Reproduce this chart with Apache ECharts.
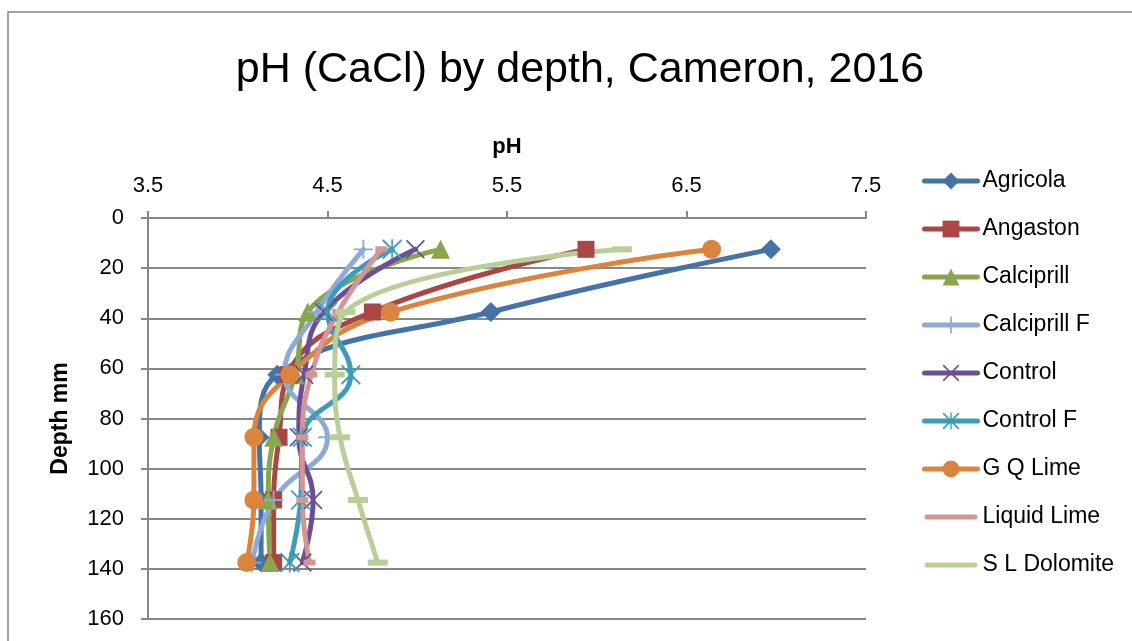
<!DOCTYPE html>
<html>
<head>
<meta charset="utf-8">
<title>pH (CaCl) by depth, Cameron, 2016</title>
<script src="https://cdn.jsdelivr.net/npm/echarts@6/dist/echarts.min.js"></script>
<style>
  html, body { margin: 0; padding: 0; background: #ffffff; }
  #chart { width: 1132px; height: 641px; }
</style>
</head>
<body>
<div id="chart"></div>
<script>
// Sampling depths (mm), midpoints of each 25 mm layer
const depths = [12.5, 37.5, 62.5, 87.5, 112.5, 137.5];

// pH (CaCl2) per treatment, one value per depth
const agricola    = [6.97, 5.41, 4.22, 4.12, 4.13, 4.13];
const angaston    = [5.94, 4.75, 4.28, 4.23, 4.20, 4.20];
const calciprill  = [5.13, 4.39, 4.32, 4.20, 4.17, 4.18];
const calciprillF = [4.70, 4.44, 4.26, 4.50, 4.20, 4.08];
const control     = [4.99, 4.48, 4.37, 4.34, 4.42, 4.36];
const controlF    = [4.86, 4.50, 4.63, 4.36, 4.35, 4.29];
const gqLime      = [6.64, 4.85, 4.29, 4.09, 4.09, 4.05];
const liquidLime  = [4.80, 4.56, 4.41, 4.36, 4.36, 4.40];
const slDolomite  = [6.14, 4.60, 4.54, 4.57, 4.67, 4.78];

const seriesNames = ['Agricola', 'Angaston', 'Calciprill', 'Calciprill F', 'Control',
                     'Control F', 'G Q Lime', 'Liquid Lime', 'S L Dolomite'];
const seriesValues = [agricola, angaston, calciprill, calciprillF, control,
                      controlF, gqLime, liquidLime, slDolomite];

// Axis ticks
const phTicks = [3.5, 4.5, 5.5, 6.5, 7.5];
const depthTicks = [0, 20, 40, 60, 80, 100, 120, 140, 160];

// Marker shapes
const PLUS = 'path://M9,0H11V9H20V11H11V20H9V11H0V9H9Z';
const CROSS = 'path://M0,1.3L1.3,0L20,18.7L18.7,20Z M18.7,0L20,1.3L1.3,20L0,18.7Z';
const STAR = 'path://M0,1.3L1.3,0L20,18.7L18.7,20Z M18.7,0L20,1.3L1.3,20L0,18.7Z M9.2,0H10.8V20H9.2Z';
// Legend swatch for the dash-marker series: just the thick line
const BAR = 'path://M2.5,0H50.5A2.5,2.5,0,0,1,50.5,5H2.5A2.5,2.5,0,0,1,2.5,0Z';

const styles = [
  { color: '#4572A7', symbol: 'diamond',  size: 20 },
  { color: '#AA4643', symbol: 'rect',     size: 17 },
  { color: '#89A54E', symbol: 'triangle', size: 19 },
  { color: '#8FAAD6', symbol: PLUS,       size: 19 },
  { color: '#6B4F94', symbol: CROSS,      size: 19 },
  { color: '#3D9CB8', symbol: STAR,       size: 20 },
  { color: '#DB843D', symbol: 'circle',   size: 19 },
  { color: '#D49595', symbol: 'rect',     size: [12, 6], plainLegend: true },
  { color: '#B9CF98', symbol: 'rect',     size: [20, 6], plainLegend: true }
];

const FONT = '"Liberation Sans", Arial, sans-serif';
const AXIS_GREY = '#878787';

const chart = echarts.init(document.getElementById('chart'), null, { renderer: 'canvas' });

const series = seriesNames.map((name, i) => ({
  name: name,
  type: 'line',
  smooth: 0.45,
  data: seriesValues[i].map((v, k) => [v, depths[k]]),
  symbol: styles[i].symbol,
  symbolSize: styles[i].size,
  showAllSymbol: true,
  lineStyle: { color: styles[i].color, width: 5, cap: 'round', join: 'round' },
  itemStyle: { color: styles[i].color, borderWidth: 0 },
  emphasis: { disabled: true }
}));

const legendData = seriesNames.map((name, i) =>
  styles[i].plainLegend ? { name: name, icon: BAR } : { name: name });

chart.setOption({
  animation: false,
  backgroundColor: '#ffffff',
  title: {
    text: 'pH (CaCl) by depth, Cameron, 2016',
    left: 575,
    textAlign: 'center',
    top: 44,
    textStyle: { fontFamily: FONT, fontSize: 43, fontWeight: 'normal', color: '#000000' }
  },
  graphic: [{
    type: 'rect',
    shape: { x: 8, y: 12, width: 1300, height: 800 },
    style: { fill: 'none', stroke: AXIS_GREY, lineWidth: 1.5 },
    silent: true,
    z: -1
  }],
  legend: {
    orient: 'vertical',
    left: 922,
    top: 168,
    padding: 0,
    itemWidth: 53,
    itemHeight: 21,
    itemGap: 22,
    data: legendData,
    lineStyle: { width: 5, cap: 'round' },
    textStyle: { fontFamily: FONT, fontSize: 23, color: '#000000', lineHeight: 26 }
  },
  grid: { left: 148, right: 266, top: 218, bottom: 22, containLabel: false },
  xAxis: {
    type: 'value',
    position: 'top',
    min: phTicks[0],
    max: phTicks[phTicks.length - 1],
    interval: phTicks[1] - phTicks[0],
    name: 'pH',
    nameLocation: 'middle',
    nameGap: 60,
    nameTextStyle: { fontFamily: FONT, fontSize: 22, fontWeight: 'bold', color: '#000000' },
    axisLine: { show: true, lineStyle: { color: AXIS_GREY, width: 2 } },
    axisTick: { show: true, inside: false, length: 7, lineStyle: { color: AXIS_GREY, width: 2 } },
    axisLabel: {
      margin: 21,
      fontFamily: FONT, fontSize: 22, color: '#000000',
      formatter: v => v.toFixed(1)
    },
    splitLine: { show: false }
  },
  yAxis: {
    type: 'value',
    inverse: true,
    min: depthTicks[0],
    max: depthTicks[depthTicks.length - 1],
    interval: depthTicks[1] - depthTicks[0],
    name: 'Depth mm',
    nameLocation: 'middle',
    nameRotate: 90,
    nameGap: 76,
    nameTextStyle: { fontFamily: FONT, fontSize: 23, fontWeight: 'bold', color: '#000000' },
    axisLine: { show: true, lineStyle: { color: AXIS_GREY, width: 2 } },
    axisTick: { show: true, inside: false, length: 7, lineStyle: { color: AXIS_GREY, width: 2 } },
    axisLabel: { margin: 24, fontFamily: FONT, fontSize: 22, color: '#000000' },
    splitLine: { show: true, lineStyle: { color: AXIS_GREY, width: 2 } }
  },
  series: series
});
</script>
</body>
</html>
